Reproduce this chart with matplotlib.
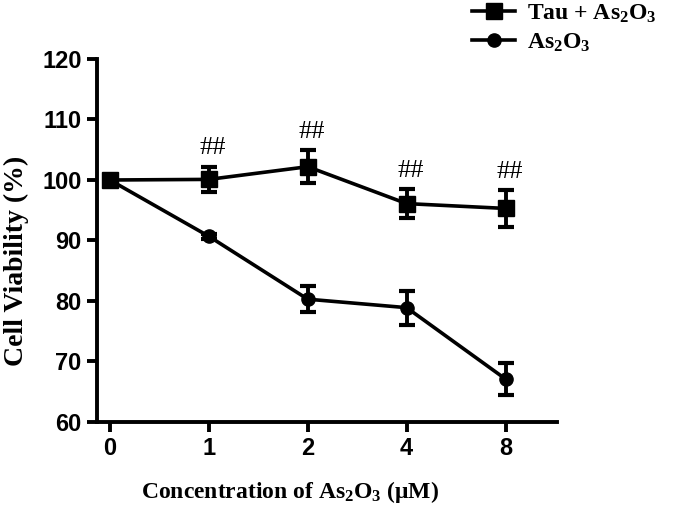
import numpy as np
import matplotlib
matplotlib.use("Agg")
import matplotlib.pyplot as plt

plt.rcParams['mathtext.fontset'] = 'custom'
plt.rcParams['mathtext.rm'] = 'Liberation Serif:bold'
plt.rcParams['mathtext.it'] = 'Liberation Serif:bold'
plt.rcParams['mathtext.bf'] = 'Liberation Serif:bold'

# data
doses = ["0", "1", "2", "4", "8"]
tau_mean = [100.0, 100.1, 102.2, 96.1, 95.3]
tau_err = [0.0, 2.1, 2.7, 2.4, 3.0]
as_mean = [100.0, 90.7, 80.3, 78.9, 67.1]
as_err = [0.0, 0.4, 2.2, 2.8, 2.7]
marks = ["", "##", "##", "##", "##"]

x = np.arange(len(doses))

fig = plt.figure(figsize=(6.75, 5.14), dpi=100)
ax = fig.add_axes([97/675, 1-422/514, (557-97)/675, (422-59)/514])

err_kw = dict(color='black', linestyle='none', elinewidth=2.8, capsize=6, capthick=3, zorder=2)
ax.errorbar(x, tau_mean, yerr=tau_err, **err_kw)
ax.errorbar(x, as_mean, yerr=as_err, **err_kw)
ax.plot(x, tau_mean, color='black', marker='s', markersize=11, linewidth=2.6,
        label=r'Tau + As$_2$O$_3$', zorder=3)
ax.plot(x, as_mean, color='black', marker='o', markersize=9.5, linewidth=2.6,
        label=r'As$_2$O$_3$', zorder=3)

for xi, m, e, s in zip(x, tau_mean, tau_err, marks):
    if s:
        ax.text(xi + 0.04, m + e + 1.2, s, ha='center', va='bottom',
                family='Liberation Serif', fontsize=19)

ax.set_xlim(-0.13, 4.52)
ax.set_ylim(60, 120)
ax.set_yticks(range(60, 121, 10))
ax.set_xticks(x)
ax.set_xticklabels(doses)
for sp in ['top', 'right']:
    ax.spines[sp].set_visible(False)
for sp in ['left', 'bottom']:
    ax.spines[sp].set_linewidth(2.8)
ax.tick_params(width=2.8, length=7, labelsize=17, pad=4)
for lab in ax.get_xticklabels() + ax.get_yticklabels():
    lab.set_family('Liberation Sans')
    lab.set_fontweight('bold')

ax.set_ylabel('Cell Viability (%)', family='Liberation Serif', fontweight='bold',
              fontsize=20)
ax.yaxis.set_label_coords((16-97)/460, (422-261)/363)
ax.yaxis.label.set_va('center')
ax.set_xlabel(r'Concentration of As$_2$O$_3$ ($\mathbf{\mu}$M)', family='Liberation Serif',
              fontweight='bold', fontsize=17)
ax.xaxis.set_label_coords((290-97)/460, -(492-422)/363)
ax.xaxis.label.set_va('center')

leg = ax.legend(loc='upper left', bbox_to_anchor=(0.77, 1.215), frameon=False,
                prop={'family': 'Liberation Serif', 'weight': 'bold', 'size': 17},
                handlelength=1.8, handletextpad=0.5, labelspacing=0.3)

fig.savefig('out.png', dpi=100)
